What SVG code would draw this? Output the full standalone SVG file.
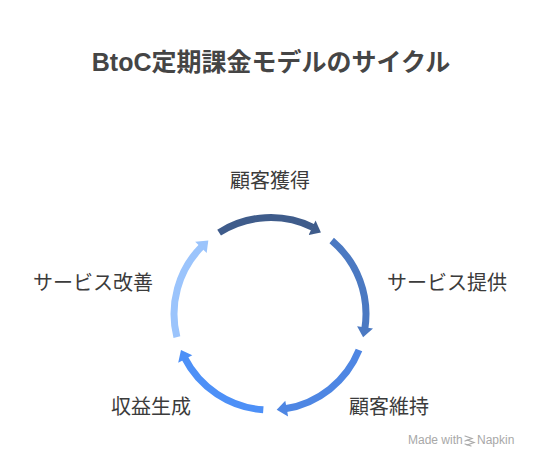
<svg xmlns="http://www.w3.org/2000/svg" width="540" height="468" viewBox="0 0 540 468">
  <style>
    .title { font-family: "Liberation Sans", "Noto Sans CJK JP", sans-serif; font-weight: bold; font-size: 25px; fill: #454545; }
    .label { font-family: "Noto Sans CJK JP", "Liberation Sans", sans-serif; font-size: 20px; fill: #3b3b3b; }
    .arc { fill: none; stroke-width: 7; }
    .wm { font-family: "Liberation Sans", "Noto Sans", sans-serif; font-size: 12px; fill: #a8a8a8; }
  </style>
  <rect width="540" height="468" fill="#ffffff"/>
  <text class="title" x="271" y="71" text-anchor="middle">BtoC定期課金モデルのサイクル</text>

  <g id="connectors">
    <g id="arc-acquire">
      <path class="arc" stroke="#3f5c8b" d="M 219.1 232.6 A 96 96 0 0 1 312.9 227.3"/>
      <polygon fill="#3f5c8b" points="308.6,234.9 315.6,220.5 320.9,232.6"/>
    </g>
    <g id="arc-provide">
      <path class="arc" stroke="#4b79c2" d="M 331.7 240.5 A 96 96 0 0 1 364.8 329.0"/>
      <polygon fill="#4b79c2" points="357.1,326.2 373.0,328.5 363.1,337.2"/>
    </g>
    <g id="arc-retain">
      <path class="arc" stroke="#4e86e3" d="M 359.0 350.0 A 96 96 0 0 1 285.0 408.8"/>
      <polygon fill="#4e86e3" points="285.3,400.7 288.1,416.4 276.7,409.8"/>
    </g>
    <g id="arc-revenue">
      <path class="arc" stroke="#4d90f7" d="M 263.3 409.8 A 96 96 0 0 1 184.5 357.6"/>
      <polygon fill="#4d90f7" points="192.3,355.3 178.2,362.8 181.0,350.0"/>
    </g>
    <g id="arc-improve">
      <path class="arc" stroke="#9bc4fc" d="M 176.9 337.2 A 96 96 0 0 1 202.1 246.1"/>
      <polygon fill="#9bc4fc" points="206.7,252.9 195.2,241.8 208.3,240.5"/>
    </g>
  </g>

  <g id="node-acquire"><text class="label" x="270" y="188" text-anchor="middle">顧客獲得</text></g>
  <g id="node-provide"><text class="label" x="387" y="289.5">サービス提供</text></g>
  <g id="node-retain"><text class="label" x="349" y="413.5">顧客維持</text></g>
  <g id="node-revenue"><text class="label" x="191" y="413.5" text-anchor="end">収益生成</text></g>
  <g id="node-improve"><text class="label" x="153" y="289.5" text-anchor="end">サービス改善</text></g>

  <g id="watermark">
    <text class="wm" x="408" y="444">Made with</text>
    <g stroke="#a8a8a8" stroke-width="1.2" fill="none" stroke-linecap="round">
      <path d="M 465 436 L 472 438.5 L 465 441"/>
      <path d="M 467 440 L 474 442.5 L 467 445"/>
      <path d="M 465 444 L 471 446"/>
    </g>
    <text class="wm" x="477" y="444">Napkin</text>
  </g>
</svg>
